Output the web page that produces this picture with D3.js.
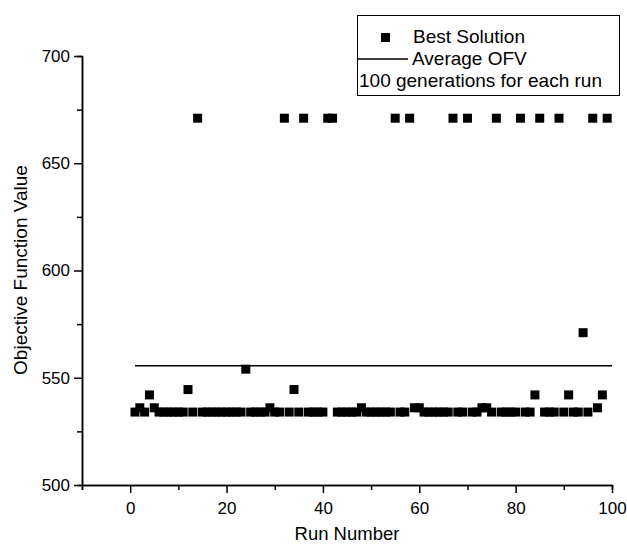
<!DOCTYPE html>
<meta charset="utf-8">
<style>
    body {
        margin: 0;
        background-color: #fff;
    }

    svg {
        display: block;
    }

    text {
        font-family: "Liberation Sans", Arial, sans-serif;
        fill: #000;
    }

    .axis path,
    .axis line {
        stroke: #000;
        stroke-width: 1.5px;
    }

    .axis text {
        font-size: 17px;
    }
</style>
<svg width="627" height="546"></svg>
<script src="https://d3js.org/d3.v7.min.js"></script>
<script>
    // best solution per run
    var runs = [];
    for (var i = 1; i <= 99; i++) runs.push(i);

    var bestValues = [
        534, 536, 534, 542, 536, 534, 534, 534, 534, 534,
        534, 544.5, 534, 671, 534, 534, 534, 534, 534, 534,
        534, 534, 534, 554, 534, 534, 534, 534, 536, 534,
        534, 671, 534, 544.5, 534, 671, 534, 534, 534, 534,
        671, 671, 534, 534, 534, 534, 534, 536, 534, 534,
        534, 534, 534, 534, 671, 534, 534, 671, 536, 536,
        534, 534, 534, 534, 534, 534, 671, 534, 534, 671,
        534, 534, 536, 536, 534, 671, 534, 534, 534, 534,
        671, 534, 534, 542, 671, 534, 534, 534, 671, 534,
        542, 534, 534, 571, 534, 671, 536, 542, 671
    ];

    var averageRuns = [1, 100];
    var averageOFV = [555.6, 555.6];

    var xTicks = [0, 20, 40, 60, 80, 100];
    var xMinorTicks = [-10, 10, 30, 50, 70, 90];
    var yTicks = [500, 550, 600, 650, 700];
    var yMinorTicks = [525, 575, 625, 675];

    var legendLabels = ["Best Solution", "Average OFV", "100 generations for each run"];

    var svg = d3.select("svg");

    var x = d3.scaleLinear().domain([-10, 100]).range([82, 612]);
    var y = d3.scaleLinear().domain([500, 700]).range([485, 56]);

    // minor ticks first, then major axes on top
    svg.append("g")
        .attr("class", "axis")
        .attr("transform", "translate(0,485)")
        .call(d3.axisBottom(x).tickValues(xMinorTicks).tickSize(5).tickFormat(""));

    svg.append("g")
        .attr("class", "axis")
        .attr("transform", "translate(82,0)")
        .call(d3.axisLeft(y).tickValues(yMinorTicks).tickSize(5).tickFormat(""));

    svg.append("g")
        .attr("class", "axis")
        .attr("transform", "translate(0,485)")
        .call(d3.axisBottom(x).tickValues(xTicks).tickSize(8).tickSizeOuter(0).tickPadding(9));

    svg.append("g")
        .attr("class", "axis")
        .attr("transform", "translate(82,0)")
        .call(d3.axisLeft(y).tickValues(yTicks).tickSize(8).tickSizeOuter(0).tickPadding(4));

    // average line
    var line = d3.line()
        .x(function(d, i) { return x(averageRuns[i]); })
        .y(function(d) { return y(d); });

    svg.append("path")
        .datum(averageOFV)
        .attr("d", line)
        .attr("fill", "none")
        .attr("stroke", "#000")
        .attr("stroke-width", 1.3);

    // best solution markers
    var size = 9;
    svg.append("g")
        .selectAll("rect")
        .data(bestValues)
        .enter().append("rect")
        .attr("x", function(d, i) { return x(runs[i]) - size / 2; })
        .attr("y", function(d) { return y(d) - size / 2; })
        .attr("width", size)
        .attr("height", size)
        .attr("fill", "#000");

    // axis titles
    svg.append("text")
        .attr("x", 347)
        .attr("y", 540)
        .attr("text-anchor", "middle")
        .style("font-size", "18.5px")
        .text("Run Number");

    svg.append("text")
        .attr("transform", "translate(27,270) rotate(-90)")
        .attr("text-anchor", "middle")
        .style("font-size", "19px")
        .text("Objective Function Value");

    // legend
    var legend = svg.append("g");

    legend.append("rect")
        .attr("x", 357.5)
        .attr("y", 15.5)
        .attr("width", 262)
        .attr("height", 80)
        .attr("fill", "#fff")
        .attr("stroke", "#000")
        .attr("stroke-width", 1);

    legend.append("rect")
        .attr("x", 381)
        .attr("y", 33)
        .attr("width", 9)
        .attr("height", 9)
        .attr("fill", "#000");

    legend.append("line")
        .attr("x1", 358)
        .attr("x2", 408)
        .attr("y1", 59)
        .attr("y2", 59)
        .attr("stroke", "#000")
        .attr("stroke-width", 1.3);

    legend.selectAll("text.leg")
        .data(legendLabels)
        .enter().append("text")
        .attr("class", "leg")
        .attr("x", function(d, i) { return [413, 412, 359][i]; })
        .attr("y", function(d, i) { return 43 + i * 22; })
        .style("font-size", "19px")
        .text(function(d) { return d; });
</script>
